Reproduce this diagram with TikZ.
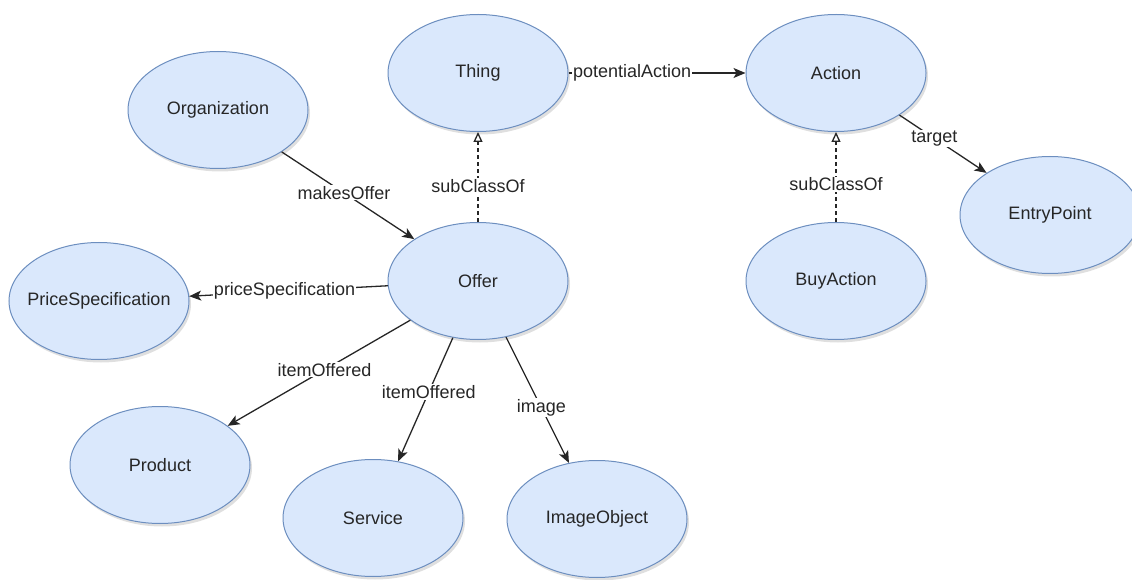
\documentclass[tikz,border=0pt]{standalone}
\usepackage{fontspec}
\setmainfont{Liberation Sans}
\usepackage{tikz}
\usetikzlibrary{shapes,arrows.meta,positioning,shadows}
\definecolor{clsfill}{HTML}{DAE8FC}
\definecolor{clsline}{HTML}{6C8EBF}
\tikzstyle{cls} = [draw=clsline, fill=clsfill, ellipse, line width=1pt,
    minimum width=180pt, minimum height=117pt, inner sep=0pt,
    font=\fontsize{18}{21}\selectfont, text=black!85,
    drop shadow={shadow xshift=2pt, shadow yshift=-3pt, opacity=0.25}]
\tikzstyle{lbl} = [fill=white, inner sep=1pt, font=\fontsize{18}{21}\selectfont, text=black!85]
\tikzstyle{rel} = [-{Stealth[length=12pt,width=10pt,inset=3pt]}, line width=1.3pt, black!85]
\tikzstyle{sub} = [-{Triangle[open,length=10pt,width=9pt]}, line width=1.3pt, black!85,
    dash pattern=on 4pt off 3pt]

\begin{document}
\begin{tikzpicture}[x=1pt, y=1pt]
	\useasboundingbox (0,0) rectangle (1132,579);

	\node[cls] (offer) at (478,298) {Offer};
	\node[cls, above=90pt of offer] (thing) {Thing};
	\node[cls, right=177pt of thing] (action) {Action};
	\node[cls, below=90pt of action] (buyaction) {BuyAction};
	\node[cls] (entrypoint) at (1050,364) {EntryPoint};
	\node[cls] (organization) at (218,469) {Organization};
	\node[cls, inner xsep=-30pt] (pricespec) at (99,278) {PriceSpecification};
	\node[cls] (product) at (160,114) {Product};
	\node[cls] (service) at (373,61) {Service};
	\node[cls] (imageobject) at (597,60) {ImageObject};

	\draw[sub] (offer) to node[lbl, pos=0.4] {subClassOf} (thing);
	\draw[sub] (buyaction) to node[lbl, pos=0.42] {subClassOf} (action);
	\draw[rel] (thing) to node[lbl, pos=0.36] {potentialAction} (action);
	\draw[rel] (action) to node[lbl, pos=0.4] {target} (entrypoint);
	\draw[rel] (organization) to node[lbl, pos=0.47] {makesOffer} (offer);
	\draw[rel] (offer) to node[lbl, pos=0.52] {priceSpecification} (pricespec);
	\draw[rel] (offer) to node[lbl, pos=0.47] {itemOffered} (product);
	\draw[rel] (offer) to node[lbl, pos=0.44] {itemOffered} (service);
	\draw[rel] (offer) to node[lbl, pos=0.56] {image} (imageobject);
\end{tikzpicture}
\end{document}
